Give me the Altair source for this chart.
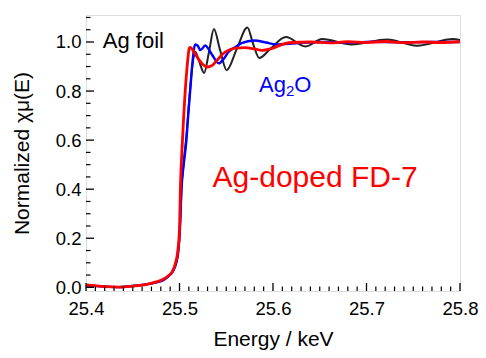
import altair as alt
import pandas as pd
import numpy as np

# ---- data (energy in keV, normalized absorption) ----
E_foil = [25.400, 25.420, 25.435, 25.456, 25.468, 25.477, 25.483, 25.488, 25.493, 25.4965,
          25.4985, 25.5005, 25.5021, 25.5045, 25.5074, 25.5095, 25.5116, 25.5147, 25.5168,
          25.5211, 25.5263, 25.5316, 25.5368, 25.5432, 25.5505, 25.5611, 25.5726, 25.5789,
          25.5853, 25.5979, 25.6137, 25.6347, 25.6526, 25.6842, 25.7221, 25.7537, 25.7926, 25.800]
mu_foil = [0.008, 0.003, 0.001, 0.008, 0.014, 0.022, 0.030, 0.045, 0.066, 0.100,
           0.140, 0.240, 0.400, 0.510, 0.620, 0.720, 0.820, 0.930, 0.960,
           0.920, 0.874, 0.960, 1.053, 0.970, 0.885, 0.970, 1.059, 0.990,
           0.935, 0.975, 1.020, 0.982, 1.012, 0.990, 1.010, 0.985, 1.012, 1.008]

E_ag2o = [25.400, 25.420, 25.435, 25.456, 25.468, 25.477, 25.483, 25.488, 25.493, 25.4965,
          25.4985, 25.5005, 25.5021, 25.5045, 25.5074, 25.5095, 25.5116, 25.5137, 25.5168,
          25.5195, 25.5221, 25.5248, 25.5274, 25.531, 25.5347, 25.5421, 25.547, 25.5526,
          25.560, 25.5663, 25.580, 25.5926, 25.6032, 25.6242, 25.650, 25.680, 25.710, 25.740,
          25.770, 25.800]
mu_ag2o = [0.008, 0.003, 0.001, 0.008, 0.014, 0.022, 0.030, 0.045, 0.066, 0.100,
           0.140, 0.240, 0.400, 0.500, 0.600, 0.710, 0.810, 0.910, 0.990,
           0.985, 0.967, 0.975, 0.986, 0.972, 0.949, 0.913, 0.930, 0.960,
           0.980, 0.995, 1.006, 0.998, 0.990, 0.995, 1.000, 0.998, 1.001, 0.999,
           1.000, 1.000]

E_fd7 = [25.400, 25.420, 25.435, 25.450, 25.465, 25.475, 25.482, 25.4874, 25.4926, 25.4958,
         25.4979, 25.5000, 25.5011, 25.5032, 25.5063, 25.5084, 25.5105, 25.5116, 25.515,
         25.520, 25.525, 25.5295, 25.535, 25.540, 25.546, 25.553, 25.560, 25.570, 25.580,
         25.588, 25.600, 25.610, 25.620, 25.640, 25.660, 25.680, 25.700, 25.720, 25.740,
         25.760, 25.780, 25.800]
mu_fd7 = [0.010, 0.003, 0.001, 0.005, 0.012, 0.022, 0.032, 0.045, 0.066, 0.100,
          0.140, 0.240, 0.420, 0.600, 0.810, 0.910, 0.975, 0.978, 0.962,
          0.932, 0.908, 0.898, 0.905, 0.925, 0.950, 0.967, 0.975, 0.977, 0.972,
          0.966, 0.975, 0.990, 0.998, 1.000, 0.996, 1.001, 0.998, 1.002, 0.997,
          1.000, 0.998, 1.001]

x_major = [25.4, 25.5, 25.6, 25.7, 25.8]
y_major = [0.0, 0.2, 0.4, 0.6, 0.8, 1.0]

# annotation pieces: text, anchor E, anchor mu, colour, font size, pixel dx, pixel dy, align
labels = ["Ag foil", "Ag", "2", "O", "Ag-doped FD-7"]
label_E = [25.4180, 25.5850, 25.5850, 25.5850, 25.6450]
label_mu = [1.003, 0.825, 0.825, 0.825, 0.447]
label_color = ["#000000", "#0000ff", "#0000ff", "#0000ff", "#ff0000"]
label_size = [22, 22, 15, 22, 30]
label_dx = [0, 0, 26.9, 35.2, 0]
label_dy = [0, 0, 6, 0, 0]
label_align = ["left", "left", "left", "left", "center"]

# ---- layout ----
W, H = 374, 276
FONT = "Liberation Sans"
xs = alt.Scale(domain=[25.4, 25.8], nice=False, zero=False)
ys = alt.Scale(domain=[-0.015, 1.11], nice=False, zero=False)

xaxis = alt.Axis(title="Energy / keV", values=x_major, format=".1f", ticks=False, tickSize=0,
                 domain=False, grid=False, labelFontSize=18.5, labelPadding=8,
                 labelFlush=False, labelOverlap=False, labelColor="black",
                 labelFont=FONT, titleFont=FONT, titleFontSize=21, titleFontWeight="normal",
                 titleColor="black", titleY=54, titleBaseline="alphabetic")
yaxis = alt.Axis(title="Normalized \u03c7\u03bc(E)", values=y_major, format=".1f", ticks=False,
                 tickSize=0, domain=False, grid=False, labelFontSize=18.5, labelPadding=5,
                 labelFlush=False, labelOverlap=False, labelColor="black",
                 labelFont=FONT, titleFont=FONT, titleFontSize=21, titleFontWeight="normal",
                 titleColor="black", titleX=-58, titleY=H / 2, titleBaseline="alphabetic")

X = alt.X("E:Q", scale=xs, axis=xaxis)
Y = alt.Y("mu:Q", scale=ys, axis=yaxis)


def curve(E, mu, color, width):
    df = pd.DataFrame({"E": E, "mu": mu})
    return alt.Chart(df).mark_line(color=color, strokeWidth=width, interpolate="monotone",
                                   clip=True).encode(x=X, y=Y)


foil = curve(E_foil, mu_foil, "#222222", 2.0)
ag2o = curve(E_ag2o, mu_ag2o, "#0000ff", 2.4)
fd7 = curve(E_fd7, mu_fd7, "#ff0000", 2.8)

# inward ticks
x_all = np.round(np.arange(25.40, 25.8001, 0.01), 2)
x_minor = [v for v in x_all if not any(abs(v - m) < 1e-6 for m in x_major)]
y_all = np.round(np.arange(0.0, 1.1001, 0.05), 2)
y_minor = [v for v in y_all if not any(abs(v - m) < 1e-6 for m in y_major)]

xt_major = alt.Chart(pd.DataFrame({"E": x_major})).mark_rule(color="black", strokeWidth=1.3).encode(
    x=X, y=alt.value(H), y2=alt.value(H - 8))
xt_minor = alt.Chart(pd.DataFrame({"E": x_minor})).mark_rule(color="black", strokeWidth=1.2).encode(
    x=X, y=alt.value(H), y2=alt.value(H - 4.5))
yt_major = alt.Chart(pd.DataFrame({"mu": y_major})).mark_rule(color="black", strokeWidth=1.3).encode(
    y=Y, x=alt.value(0), x2=alt.value(8))
yt_minor = alt.Chart(pd.DataFrame({"mu": y_minor})).mark_rule(color="black", strokeWidth=1.2).encode(
    y=Y, x=alt.value(0), x2=alt.value(4.5))

lab_df = pd.DataFrame({"t": labels, "E": label_E, "mu": label_mu})
texts = []
for i in range(len(labels)):
    texts.append(alt.Chart(lab_df.iloc[[i]]).mark_text(
        font=FONT, fontSize=label_size[i], align=label_align[i], baseline="middle",
        dx=label_dx[i], dy=label_dy[i], color=label_color[i]).encode(x=X, y=Y, text="t:N"))

chart = alt.layer(foil, ag2o, fd7, xt_minor, xt_major, yt_minor, yt_major, *texts).properties(
    width=W, height=H, autosize="none",
    padding={"left": 78, "top": 7, "right": 18, "bottom": 59},
    background="white",
).configure_view(stroke="black", strokeWidth=2).configure(font=FONT)

chart.save("out.html", embed_options={"renderer": "svg", "actions": False})
